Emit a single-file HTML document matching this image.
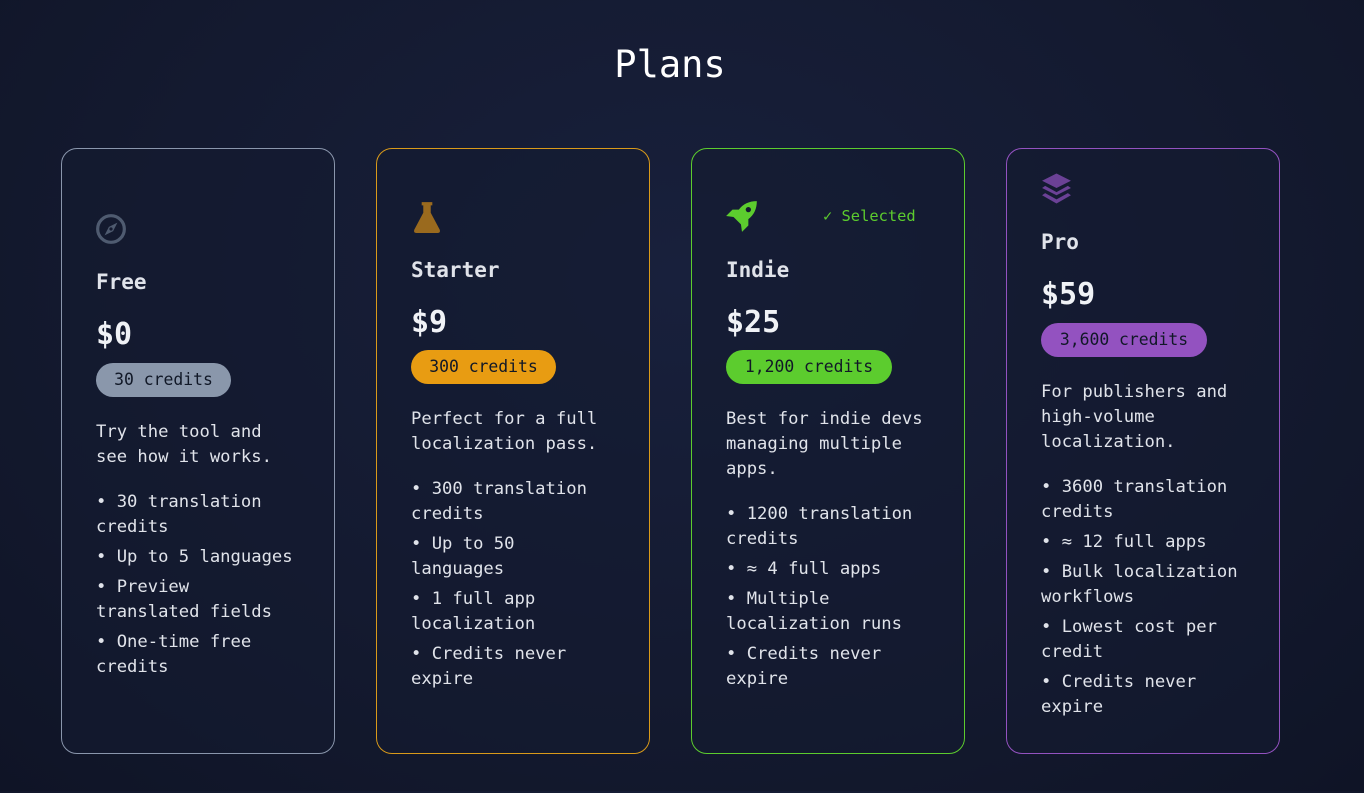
<!DOCTYPE html>
<html><head><meta charset="utf-8"><style>
*{margin:0;padding:0;box-sizing:border-box}
body{width:1364px;height:791px;overflow:hidden;background:radial-gradient(ellipse at 50% 35%,#18203c 0%,#141a30 55%,#0f1426 100%);font-family:"DejaVu Sans Mono","Liberation Mono",monospace;color:#e2e6ee;position:relative}
.w{position:absolute;left:0;top:2px;width:1364px;height:791px}
.t{position:absolute;white-space:pre;line-height:25px;font-size:17.2px;color:#e0e3ea}
.card{position:absolute;top:148px;width:274px;height:606px;border-radius:16px;border:1px solid;background:rgba(20,26,48,0.6)}
.h{font-size:21px;font-weight:bold;line-height:30px}
.p{font-size:30px;font-weight:bold;line-height:40px;color:#f0f2f6}
.b{position:absolute;height:34px;border-radius:17px;font-size:16.4px;line-height:34px;text-align:center;color:#111827}
</style></head><body>
<div class="t" style="left:0;width:1340px;text-align:center;top:42px;font-size:37px;line-height:46px;color:#fff">Plans</div>

<div class="card" style="left:61px;border-color:#8a96ac"></div>
<div class="card" style="left:376px;border-color:#d99a1a"></div>
<div class="card" style="left:691px;border-color:#5ccc2e"></div>
<div class="card" style="left:1006px;border-color:#9352c0"></div>
<div class="w">
<!-- Free -->
<svg style="position:absolute;left:95px;top:211px" width="32" height="32" viewBox="0 0 30 30"><circle cx="15" cy="15" r="12.5" fill="none" stroke="#4f5b70" stroke-width="3"/><path d="M21 9 L17 17 L9 21 L13 13 Z" fill="#4f5b70"/><circle cx="15" cy="15" r="1.5" fill="#141a30"/></svg>
<div class="t h" style="left:96px;top:265px">Free</div>
<div class="t p" style="left:96px;top:313px">$0</div>
<div class="b" style="left:96px;top:361px;width:135px;background:#8a97ab">30 credits</div>
<div class="t" style="left:96px;top:418px">Try the tool and
see how it works.</div>
<div class="t" style="left:96px;top:488px">• 30 translation
credits</div>
<div class="t" style="left:96px;top:543px">• Up to 5 languages</div>
<div class="t" style="left:96px;top:573px">• Preview
translated fields</div>
<div class="t" style="left:96px;top:628px">• One-time free
credits</div>

<!-- Starter -->
<svg style="position:absolute;left:412px;top:198px" width="30" height="34" viewBox="0 0 28 32"><path d="M9 2 H19 V5 H17.5 V12 L26 28 Q27 31 24 31 H4 Q1 31 2 28 L10.5 12 V5 H9 Z" fill="#9a6a1e"/></svg>
<div class="t h" style="left:411px;top:253px">Starter</div>
<div class="t p" style="left:411px;top:301px">$9</div>
<div class="b" style="left:411px;top:348px;width:145px;background:#e89c12">300 credits</div>
<div class="t" style="left:411px;top:405px">Perfect for a full
localization pass.</div>
<div class="t" style="left:411px;top:475px">• 300 translation
credits</div>
<div class="t" style="left:411px;top:530px">• Up to 50
languages</div>
<div class="t" style="left:411px;top:585px">• 1 full app
localization</div>
<div class="t" style="left:411px;top:640px">• Credits never
expire</div>

<!-- Indie -->
<svg style="position:absolute;left:724px;top:198px" width="36" height="34" viewBox="0 0 34 32"><path d="M31 1 Q20 1 14 9 L8 9 L2 15 L9 16 L16 23 L17 30 L23 24 L23 18 Q31 12 31 1 Z" fill="#5ccc2e"/><circle cx="23" cy="9" r="2.5" fill="#141a30"/></svg>
<div class="t" style="left:823px;top:202px;font-size:15.4px;color:#5ccc2e">✓ Selected</div>
<div class="t h" style="left:726px;top:253px">Indie</div>
<div class="t p" style="left:726px;top:301px">$25</div>
<div class="b" style="left:726px;top:348px;width:166px;background:#5ccc2e">1,200 credits</div>
<div class="t" style="left:726px;top:405px">Best for indie devs
managing multiple
apps.</div>
<div class="t" style="left:726px;top:500px">• 1200 translation
credits</div>
<div class="t" style="left:726px;top:555px">• ≈ 4 full apps</div>
<div class="t" style="left:726px;top:585px">• Multiple
localization runs</div>
<div class="t" style="left:726px;top:640px">• Credits never
expire</div>

<!-- Pro -->
<svg style="position:absolute;left:1040px;top:170px" width="33" height="34" viewBox="0 0 32 32"><path d="M16 1 L30 8 L16 15 L2 8 Z" fill="#6b4196"/><path d="M5 13 L16 19 L27 13 L30 15 L16 22 L2 15 Z" fill="#6b4196"/><path d="M5 20 L16 26 L27 20 L30 22 L16 30 L2 22 Z" fill="#6b4196"/></svg>
<div class="t h" style="left:1041px;top:225px">Pro</div>
<div class="t p" style="left:1041px;top:273px">$59</div>
<div class="b" style="left:1041px;top:321px;width:166px;background:#9352c0">3,600 credits</div>
<div class="t" style="left:1041px;top:378px">For publishers and
high-volume
localization.</div>
<div class="t" style="left:1041px;top:473px">• 3600 translation
credits</div>
<div class="t" style="left:1041px;top:528px">• ≈ 12 full apps</div>
<div class="t" style="left:1041px;top:558px">• Bulk localization
workflows</div>
<div class="t" style="left:1041px;top:613px">• Lowest cost per
credit</div>
<div class="t" style="left:1041px;top:668px">• Credits never
expire</div>
</div>
</body></html>
